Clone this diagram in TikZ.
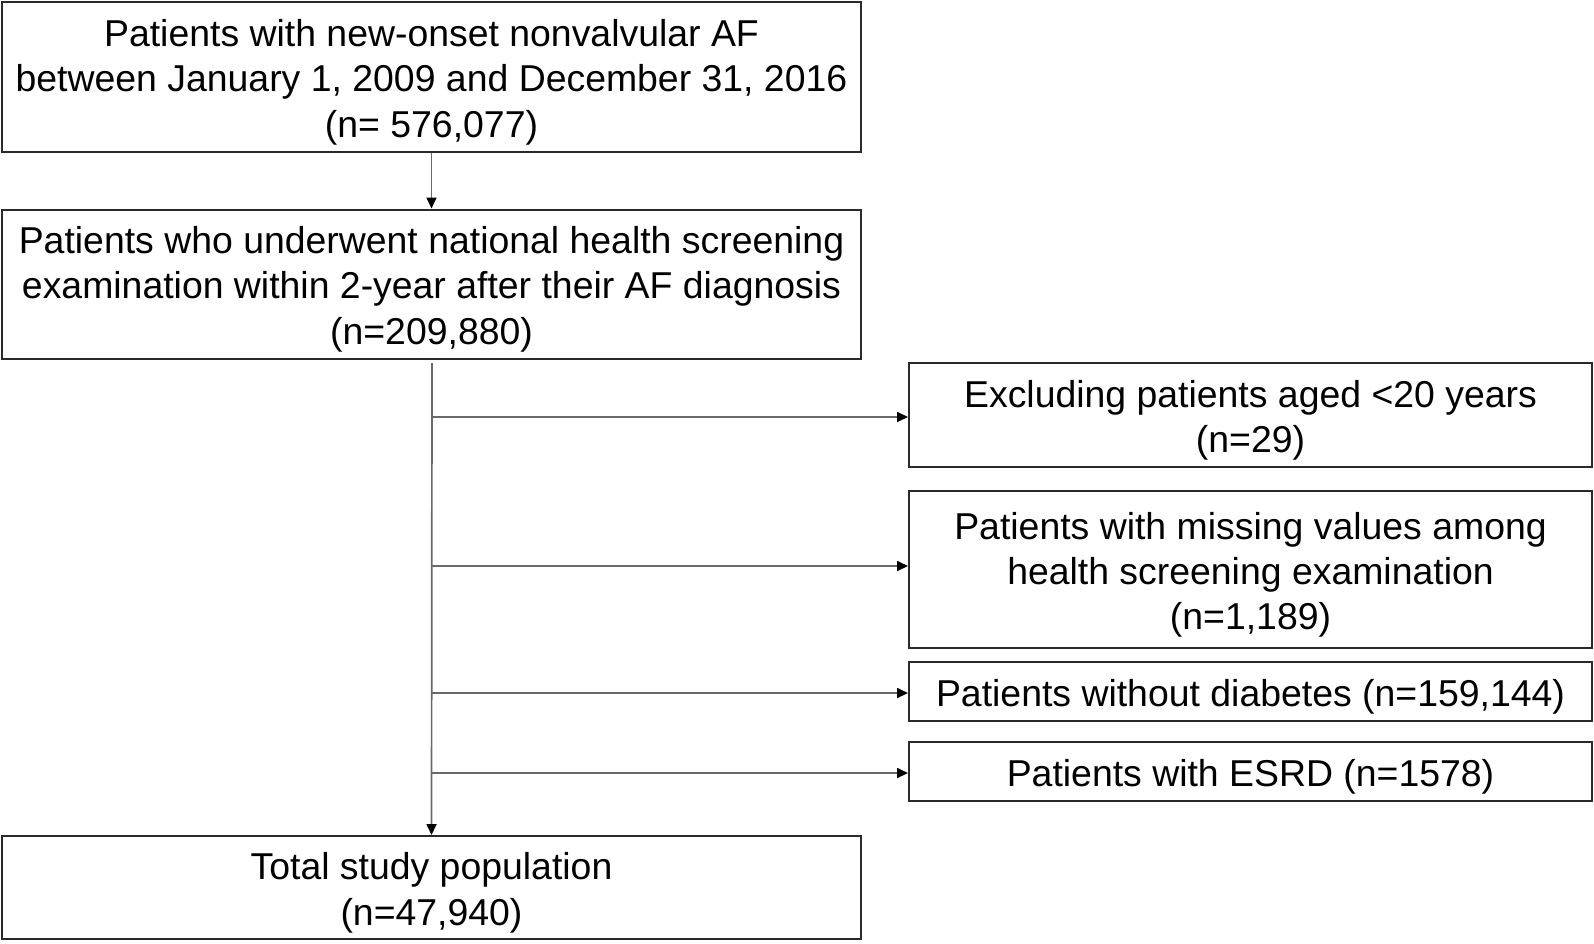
\documentclass[tikz,border=0pt]{standalone}
\usepackage{fontspec}
\setmainfont{Liberation Sans}
\usetikzlibrary{arrows.meta}
\definecolor{boxline}{HTML}{2A2A2A}
\definecolor{conn}{HTML}{6A6A6A}
\newcommand\toplift{\rule{0pt}{18.8pt}}
\begin{document}
\begin{tikzpicture}[x=0.5pt,y=-0.5pt,
  box/.style={draw=boxline, line width=1pt, inner sep=0pt, align=center,
    font=\fontsize{18.7}{22.6}\selectfont, text=black},
  bigbox/.style={box, minimum width=429.5pt},
  sidebox/.style={box, minimum width=341.5pt},
  conn/.style={draw=conn, line width=0.85pt, -{Triangle[length=5.5pt,width=5pt,color=black]}}]
\useasboundingbox (0,0) rectangle (1594,943);
\fill[white] (0,0) rectangle (1594,943);

\node[bigbox, minimum height=75pt] (b1) at (431.5,77)
  {\toplift Patients with new-onset nonvalvular AF\\between January 1, 2009 and December 31, 2016\\(n= 576,077)};
\node[bigbox, minimum height=74.5pt] (b2) at (431.5,284)
  {\toplift Patients who underwent national health screening\\examination within 2-year after their AF diagnosis\\(n=209,880)};
\node[sidebox, minimum height=52pt] (b3) at (1250.5,415)
  {\toplift Excluding patients aged <20 years\\(n=29)};
\node[sidebox, minimum height=78.5pt] (b4) at (1250.5,569.5)
  {\toplift Patients with missing values among\\health screening examination\\(n=1,189)};
\node[sidebox, minimum height=29.5pt] (b5) at (1250.5,691.5)
  {\toplift Patients without diabetes (n=159,144)};
\node[sidebox, minimum height=29.5pt] (b6) at (1250.5,771.5)
  {\toplift Patients with ESRD (n=1578)};
\node[bigbox, minimum height=51.5pt] (b7) at (431.5,887.5)
  {\toplift Total study population\\(n=47,940)};

\draw[conn] (b1.south) -- (b2.north);
\coordinate (t) at (432,363);
\draw[conn] (t) -- (b7.north);
\draw[conn] (t |- 0,417) -- (b3.west |- 0,417);
\draw[conn] (t |- 0,566) -- (b4.west |- 0,566);
\draw[conn] (t |- 0,693) -- (b5.west |- 0,693);
\draw[conn] (t |- 0,773) -- (b6.west |- 0,773);
\end{tikzpicture}
\end{document}
